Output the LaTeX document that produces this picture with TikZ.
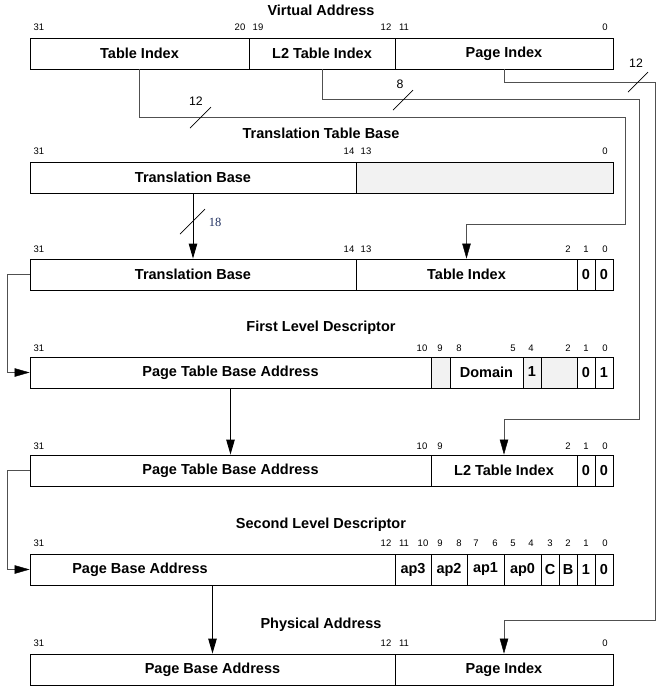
\documentclass[tikz,border=0pt]{standalone}
\usepackage{fontspec}
\setmainfont{Liberation Sans}
\newfontfamily\serifnum{Liberation Serif}
\usetikzlibrary{arrows.meta}
\definecolor{cellgray}{HTML}{F2F2F2}
\definecolor{navy}{HTML}{1F2F5F}
\definecolor{wirecol}{HTML}{505050}
% name, x1, x2, ycenter, style, text
\newcommand\mycell[6]{%
  \pgfmathsetmacro\mycx{(#2+#3)/2}%
  \pgfmathsetmacro\mycw{#3-#2}%
  \node[cell,#5,minimum width=\mycw pt] (#1) at (\mycx,#4) {#6};}
\begin{document}
\begin{tikzpicture}[x=1pt,y=-1pt,
  cell/.style={draw=black, line width=0.9pt, minimum height=31pt, inner sep=0pt,
    font=\fontsize{14.5}{16}\selectfont\bfseries},
  plain/.style={},
  shaded/.style={fill=cellgray},
  celltext/.style={inner sep=0pt, font=\fontsize{14.5}{16}\selectfont\bfseries},
  bit/.style={font=\fontsize{9.5}{11}\selectfont, inner sep=0pt},
  title/.style={font=\fontsize{14.5}{16}\selectfont\bfseries, inner sep=0pt},
  wire/.style={draw=wirecol, line width=0.9pt},
  arr/.style={-{Triangle[length=15pt,width=8.5pt]}, draw=black, fill=black},
  tick/.style={draw=black, line width=0.7pt},
  ticklab/.style={font=\fontsize{12.3}{14}\selectfont, inner sep=0pt}]
\useasboundingbox (0,0) rectangle (664,689);

% ---------- titles
\node[title] (t1) at (321,10) {Virtual Address};
\node[title] (t2) at (321,133) {Translation Table Base};
\node[title] (t3) at (321,328) {First Level Descriptor};
\node[title] (t4) at (321,525) {Second Level Descriptor};
\node[title] (t5) at (321,625) {Physical Address};

% ---------- row 1: virtual address
\mycell{va1}{30}{249}{53.5}{plain}{Table Index}
\mycell{va2}{249}{395}{53.5}{plain}{L2 Table Index}
\mycell{va3}{395}{613}{53.5}{plain}{Page Index}
\foreach \t/\x in {31/39,20/240,19/258,12/386,11/404,0/605}
  \node[bit] (b1-\t) at (\x,27) {\t};

% ---------- row 2: translation table base
\mycell{tb2}{30}{356}{177.5}{plain}{Translation Base}
\mycell{tg2}{356}{613}{177.5}{shaded}{}
\foreach \t/\x in {31/39,14/349,13/366,0/605}
  \node[bit] (b2-\t) at (\x,151) {\t};

% ---------- row 3
\mycell{tb3}{30}{356}{274.5}{plain}{Translation Base}
\mycell{ti3}{356}{577}{274.5}{plain}{Table Index}
\mycell{za3}{577}{595}{274.5}{plain}{0}
\mycell{zb3}{595}{613}{274.5}{plain}{0}
\foreach \t/\x in {31/39,14/349,13/366,2/568,1/586,0/605}
  \node[bit] (b3-\t) at (\x,249) {\t};

% ---------- row 4: first level descriptor
\mycell{pt4}{30}{431}{372.5}{plain}{Page Table Base Address}
\mycell{ga4}{431}{450}{372.5}{shaded}{}
\mycell{dm4}{450}{523}{372.5}{plain}{Domain}
\mycell{on4}{523}{541}{372.5}{shaded}{\raisebox{2pt}{1}}
\mycell{gb4}{541}{577}{372.5}{shaded}{}
\mycell{za4}{577}{595}{372.5}{plain}{0}
\mycell{zb4}{595}{613}{372.5}{plain}{1}
\foreach \t/\x in {31/39,10/422,9/440,8/459,5/513,4/531,2/568,1/586,0/605}
  \node[bit] (b4-\t) at (\x,348) {\t};

% ---------- row 5
\mycell{pt5}{30}{431}{470.5}{plain}{Page Table Base Address}
\mycell{l25}{431}{577}{470.5}{plain}{L2 Table Index}
\mycell{za5}{577}{595}{470.5}{plain}{0}
\mycell{zb5}{595}{613}{470.5}{plain}{0}
\foreach \t/\x in {31/39,10/422,9/440,2/568,1/586,0/605}
  \node[bit] (b5-\t) at (\x,446) {\t};

% ---------- row 6: second level descriptor
\mycell{pb6}{30}{395}{569.5}{plain}{}
\node[celltext] (pb6t) at (140,569.5) {Page Base Address};
\mycell{a36}{395}{431}{569.5}{plain}{ap3}
\mycell{a26}{431}{467}{569.5}{plain}{ap2}
\mycell{a16}{467}{504}{569.5}{plain}{ap1}
\mycell{a06}{504}{541}{569.5}{plain}{ap0}
\mycell{c6}{541}{559}{569.5}{plain}{C}
\mycell{bb6}{559}{577}{569.5}{plain}{B}
\mycell{za6}{577}{595}{569.5}{plain}{1}
\mycell{zb6}{595}{613}{569.5}{plain}{0}
\foreach \t/\x in {31/39,12/386,11/404,10/423,9/440,8/459,7/476,6/495,5/513,4/531,3/550,2/568,1/586,0/605}
  \node[bit] (b6-\t) at (\x,543) {\t};

% ---------- row 7: physical address
\mycell{pb7}{30}{395}{669.5}{plain}{Page Base Address}
\mycell{pi7}{395}{613}{669.5}{plain}{Page Index}
\foreach \t/\x in {31/39,12/386,11/404,0/605}
  \node[bit] (b7-\t) at (\x,643) {\t};

% ---------- long connectors from virtual address
\coordinate (k1a) at (625,117);
\coordinate (k1b) at (625,224);
\draw[wire] (va1.south) |- (k1a) -- (k1b) -| ([yshift=14pt]ti3.north);
\draw[arr] ([yshift=15pt]ti3.north) -- (ti3.north);
\draw[tick] (190,128) -- (211,107);
\node[ticklab] (n12a) at (196,101) {12};

\coordinate (k2a) at (639,99);
\coordinate (k2b) at (639,419);
\draw[wire] (va2.south) |- (k2a) -- (k2b) -| ([yshift=14pt]l25.north);
\draw[arr] ([yshift=15pt]l25.north) -- (l25.north);
\draw[tick] (393,110) -- (413,90);
\node[ticklab] (n8) at (400,84) {8};

\coordinate (k3a) at (655,82);
\coordinate (k3b) at (655,620);
\draw[wire] (va3.south) |- (k3a) -- (k3b) -| ([yshift=14pt]pi7.north);
\draw[arr] ([yshift=15pt]pi7.north) -- (pi7.north);
\draw[tick] (628,92) -- (648,72);
\node[ticklab] (n12b) at (636,63) {12};

% ---------- vertical connectors
\draw[wire,arr] (tb2.south) -- (tb3.north);
\draw[tick] (180,234) -- (205,209);
\node[inner sep=0pt, text=navy, font=\serifnum\fontsize{12.5}{14}\selectfont] (n18) at (215,222) {18};

\draw[wire,arr] (pt4.south) -- (pt5.north);
\draw[wire,arr] (pb6.south) -- (pb7.north);

% ---------- left connectors
\draw[wire] (tb3.west) -- ++(-22,0) |- ([xshift=-14pt]pt4.west);
\draw[arr] ([xshift=-15pt]pt4.west) -- (pt4.west);
\draw[wire] (pt5.west) -- ++(-22,0) |- ([xshift=-14pt]pb6.west);
\draw[arr] ([xshift=-15pt]pb6.west) -- (pb6.west);
\end{tikzpicture}
\end{document}
